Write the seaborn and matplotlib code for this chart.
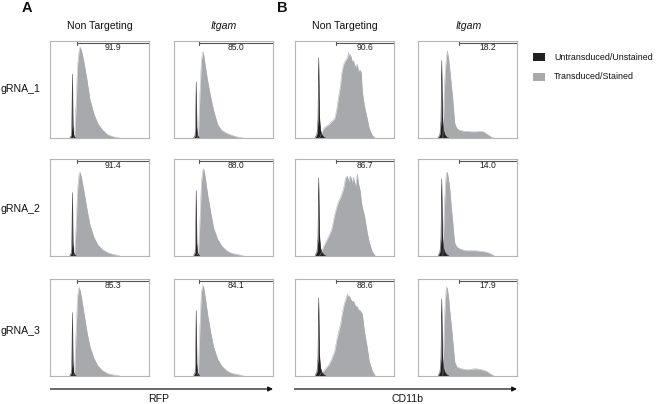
import numpy as np
import matplotlib
matplotlib.use("Agg")
import matplotlib.pyplot as plt
from matplotlib.patches import Rectangle
import seaborn as sns

sns.set_theme(style="white")
plt.rcParams['font.family'] = ['Liberation Sans', 'DejaVu Sans']

# ---------------- data (x as fraction of the fluorescence axis, y as relative count) ----------------
col_titles = ["Non Targeting", "Itgam", "Non Targeting", "Itgam"]
row_labels = ["gRNA_1", "gRNA_2", "gRNA_3"]
gate_values = [["91.9", "85.0", "90.6", "18.2"],
               ["91.4", "88.0", "86.7", "14.0"],
               ["85.3", "84.1", "88.6", "17.9"]]
gate_start = [0.265, 0.255, 0.41, 0.41]
legend_labels = ["Untransduced/Unstained", "Transduced/Stained"]
axis_labels = ["RFP", "CD11b"]

# RFP (columns 1 and 2)
rfp_gray_x = [0.23, 0.245, 0.26, 0.275, 0.29, 0.30, 0.315, 0.34, 0.37, 0.40, 0.44, 0.48, 0.53, 0.58, 0.64, 0.70]
rfp_nt_1 = [0, 0.02, 0.35, 0.75, 0.90, 0.94, 0.90, 0.78, 0.60, 0.40, 0.25, 0.15, 0.08, 0.035, 0.012, 0]
rfp_nt_2 = [0, 0.02, 0.30, 0.68, 0.84, 0.86, 0.80, 0.66, 0.48, 0.32, 0.19, 0.11, 0.06, 0.03, 0.01, 0]
rfp_nt_3 = [0, 0.03, 0.45, 0.82, 0.91, 0.88, 0.80, 0.64, 0.45, 0.30, 0.18, 0.10, 0.05, 0.02, 0.005, 0]
rfp_it_1 = [0, 0.05, 0.45, 0.80, 0.89, 0.85, 0.74, 0.58, 0.42, 0.28, 0.14, 0.08, 0.05, 0.03, 0.01, 0]
rfp_it_2 = [0, 0.03, 0.35, 0.75, 0.88, 0.89, 0.80, 0.62, 0.44, 0.28, 0.17, 0.10, 0.05, 0.025, 0.01, 0]
rfp_it_3 = [0, 0.05, 0.50, 0.86, 0.93, 0.90, 0.80, 0.62, 0.44, 0.29, 0.17, 0.10, 0.05, 0.025, 0.01, 0]

rfp_black_x = [0.195, 0.21, 0.216, 0.222, 0.228, 0.234, 0.245, 0.26]
rfp_black_shape = [0, 0.04, 0.18, 1.0, 0.2, 0.06, 0.01, 0]
rfp_black_peak = [[0.66, 0.58], [0.65, 0.67], [0.65, 0.67]]

# CD11b, Non Targeting (column 3)
cd_nt_x = [0.245, 0.26, 0.29, 0.34, 0.37, 0.40, 0.42, 0.44, 0.46, 0.47, 0.49, 0.51, 0.53, 0.54, 0.55,
           0.56, 0.58, 0.59, 0.61, 0.63, 0.64, 0.66, 0.67, 0.68, 0.70, 0.73, 0.75, 0.78, 0.81]
cd_nt_1 = [0, 0.03, 0.10, 0.14, 0.17, 0.20, 0.29, 0.43, 0.55, 0.66, 0.76, 0.80, 0.83, 0.88, 0.84,
           0.86, 0.78, 0.80, 0.73, 0.76, 0.69, 0.70, 0.67, 0.48, 0.34, 0.20, 0.10, 0.03, 0]
cd_nt_2 = [0, 0.02, 0.10, 0.20, 0.27, 0.42, 0.50, 0.56, 0.60, 0.63, 0.69, 0.80, 0.82, 0.76, 0.80,
           0.82, 0.75, 0.81, 0.71, 0.84, 0.75, 0.66, 0.56, 0.50, 0.42, 0.24, 0.14, 0.04, 0]
cd_nt_3 = [0, 0.02, 0.05, 0.11, 0.17, 0.25, 0.36, 0.45, 0.53, 0.60, 0.71, 0.78, 0.84, 0.81, 0.82,
           0.79, 0.76, 0.77, 0.72, 0.71, 0.68, 0.67, 0.65, 0.64, 0.47, 0.29, 0.15, 0.05, 0]

# CD11b, Itgam (column 4)
cd_it_x = [0.25, 0.265, 0.275, 0.285, 0.295, 0.31, 0.32, 0.335, 0.35, 0.36, 0.37, 0.39, 0.42,
           0.46, 0.50, 0.54, 0.58, 0.62, 0.66, 0.69, 0.72, 0.75, 0.77]
cd_it_1 = [0, 0.52, 0.70, 0.83, 0.90, 0.80, 0.70, 0.55, 0.40, 0.27, 0.15, 0.10, 0.08,
           0.07, 0.07, 0.065, 0.065, 0.07, 0.065, 0.045, 0.025, 0.005, 0]
cd_it_2 = [0, 0.50, 0.72, 0.85, 0.86, 0.76, 0.68, 0.50, 0.34, 0.22, 0.13, 0.09, 0.07,
           0.055, 0.05, 0.05, 0.05, 0.045, 0.04, 0.035, 0.025, 0.01, 0]
cd_it_3 = [0, 0.55, 0.78, 0.91, 0.90, 0.78, 0.66, 0.52, 0.36, 0.25, 0.14, 0.09, 0.075,
           0.065, 0.06, 0.065, 0.07, 0.065, 0.055, 0.045, 0.025, 0.005, 0]

cd_black_x = [0.20, 0.22, 0.23, 0.237, 0.244, 0.255, 0.27, 0.29, 0.31]
cd_black_shape = [0, 0.05, 0.22, 1.0, 0.28, 0.10, 0.04, 0.01, 0]
cd_black_peak = [[0.83, 0.80], [0.80, 0.79], [0.80, 0.79]]

gray_series = [[rfp_nt_1, rfp_it_1, cd_nt_1, cd_it_1],
               [rfp_nt_2, rfp_it_2, cd_nt_2, cd_it_2],
               [rfp_nt_3, rfp_it_3, cd_nt_3, cd_it_3]]
gray_x = [rfp_gray_x, rfp_gray_x, cd_nt_x, cd_it_x]

# ---------------- style / layout ----------------
GRAY = "#a7a9ac"
BLACK = "#231f20"
W, H = 660, 404
fig = plt.figure(figsize=(6.6, 4.04), dpi=100)

ov = fig.add_axes([0, 0, 1, 1], zorder=0)
ov.set_xlim(0, W)
ov.set_ylim(H, 0)
ov.axis("off")

col_left = [50.5, 174.3, 295.3, 418.3]
row_top = [41.0, 158.5, 278.5]
pw, ph = 98.5, 97.0

for r in range(3):
    for c in range(4):
        ax = fig.add_axes([col_left[c] / W, 1 - (row_top[r] + ph) / H, pw / W, ph / H], zorder=2)
        ax.set_xlim(0, 1)
        ax.set_ylim(0, 1)
        gx = np.array(gray_x[c])
        gy = np.array(gray_series[r][c])
        sns.lineplot(x=gx, y=gy, ax=ax, color=GRAY, lw=0.3, sort=False)
        ax.fill_between(gx, gy, 0, color=GRAY, lw=0)
        if c < 2:
            bx = np.array(rfp_black_x)
            by = np.array(rfp_black_shape) * rfp_black_peak[r][c]
        else:
            bx = np.array(cd_black_x)
            by = np.array(cd_black_shape) * cd_black_peak[r][c - 2]
        sns.lineplot(x=bx, y=by, ax=ax, color=BLACK, lw=0.3, sort=False)
        ax.fill_between(bx, by, 0, color=BLACK, lw=0)
        # gate
        g0 = gate_start[c]
        ax.plot([g0, 1], [0.979, 0.979], color="#555555", lw=0.8, solid_capstyle="butt")
        ax.plot([g0, g0], [0.955, 0.995], color="#555555", lw=0.8)
        ax.text((g0 + 1) / 2, 0.93, gate_values[r][c], ha="center", va="center",
                fontsize=6.2, color="#222222")
        ax.set_xticks([])
        ax.set_yticks([])
        if ax.get_legend() is not None:
            ax.get_legend().remove()
        for s in ax.spines.values():
            s.set_color("#b5b5b5")
            s.set_linewidth(0.8)

# column titles
for c, t in enumerate(col_titles):
    ov.text(col_left[c] + pw / 2 + (1.5 if c == 3 else 0), 26, t, ha="center", va="center",
            fontsize=7.6, style="italic" if t == "Itgam" else "normal", color="#111111")

# row labels
for r, (t, y) in enumerate(zip(row_labels, [88.5, 209, 331.5])):
    ov.text(0.5, y, t, ha="left", va="center", fontsize=7.6, color="#111111")

# panel letters
ov.text(27, 7.5, "A", ha="center", va="center", fontsize=10.5, fontweight="bold", color="#111111")
ov.text(282, 7.5, "B", ha="center", va="center", fontsize=10.5, fontweight="bold", color="#111111")

# axis arrows
for (x0, x1), lab, lx in zip([(50.5, 273), (294.5, 517)], axis_labels, [158.7, 407.5]):
    ov.annotate("", xy=(x1, 389), xytext=(x0, 389),
                arrowprops=dict(arrowstyle="-|>", lw=0.9, color="#111111",
                                mutation_scale=7, shrinkA=0, shrinkB=0))
    ov.text(lx, 398.5, lab, ha="center", va="center", fontsize=7.6, color="#111111")

# legend
for (lab, col, yc) in zip(legend_labels, [BLACK, GRAY], [57, 76.5]):
    ov.add_patch(Rectangle((532.5, yc - 4), 12, 8, facecolor=col, edgecolor="none"))
    ov.text(554, yc, lab, ha="left", va="center", fontsize=6.4, color="#111111")

fig.savefig("out.png", dpi=100)
